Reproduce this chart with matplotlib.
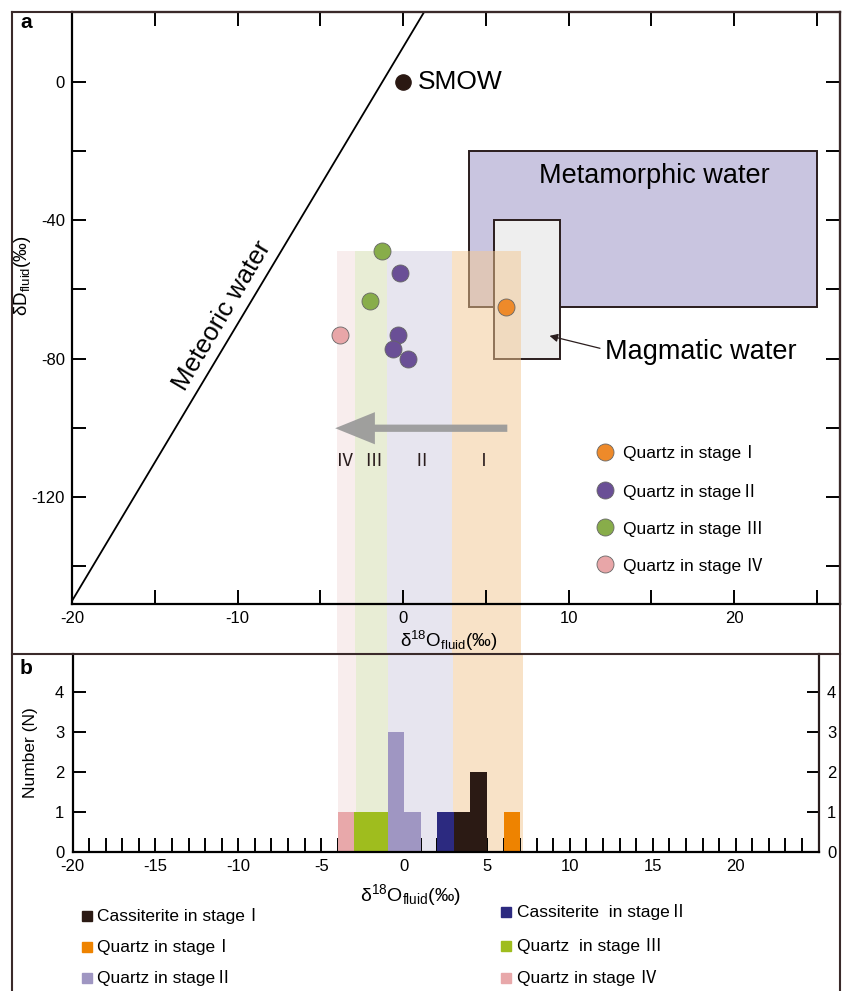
import matplotlib
matplotlib.use("Agg")
import matplotlib.pyplot as plt
from matplotlib.patches import Rectangle, FancyArrow
from matplotlib.lines import Line2D
import matplotlib.ticker as mticker
import numpy as np

plt.rcParams['font.family'] = ['Liberation Sans', 'Noto Sans CJK SC', 'DejaVu Sans']
plt.rcParams['mathtext.fontset'] = 'custom'
plt.rcParams['mathtext.rm'] = 'Liberation Sans'
plt.rcParams['mathtext.it'] = 'Liberation Sans:italic'
plt.rcParams['mathtext.bf'] = 'Liberation Sans:bold'
plt.rcParams['axes.unicode_minus'] = False

# ---------------- data ----------------
stage_names = ['Ⅰ', 'Ⅱ', 'Ⅲ', 'Ⅳ']
# fluid isotope points (δ18O, δD)
qz1_o = [6.2]
qz1_d = [-65.2]
qz2_o = [-0.2, -0.3, -0.6, 0.3]
qz2_d = [-55.1, -73.1, -77.2, -80.2]
qz3_o = [-1.3, -2.0]
qz3_d = [-49.0, -63.2]
qz4_o = [-3.8]
qz4_d = [-73.1]

# stage band boundaries in δ18O (IV, III, II, I)
band_edges = [-4.0, -2.9, -0.95, 2.95, 7.15]
band_top = -49

# reference fields
meta_box = [4, 25, -65, -20]      # xmin, xmax, ymin, ymax
magma_box = [5.5, 9.5, -80, -40]
smow = (0, 0)
mwl_slope, mwl_int = 8, 10

# histogram (bin left edges, counts), bin width 1
hist_cass1_x = [3, 4]; hist_cass1_n = [1, 2]
hist_qz1_x = [6];      hist_qz1_n = [1]
hist_qz2_x = [-1, 0];  hist_qz2_n = [3, 1]
hist_cass2_x = [2];    hist_cass2_n = [1]
hist_qz3_x = [-3, -2]; hist_qz3_n = [1, 1]
hist_qz4_x = [-4];     hist_qz4_n = [1]

# ---------------- styling ----------------
c_qz1 = '#ee8a2a'; c_qz2 = '#6a4f96'; c_qz3 = '#88ad4a'; c_qz4 = '#e8a6a8'
band_cols = ['#f3dddd', '#d3ddad', '#d1cde1', '#f3c791']  # IV, III, II, I
hc = {'cass1': '#2b1a14', 'qz1': '#ee8300', 'qz2': '#9f96c2',
      'cass2': '#2c2a80', 'qz3': '#9fbd1e', 'qz4': '#e8a8aa'}
dark = '#2a1d1d'
gap = {'Ⅰ': '', 'Ⅱ': '', 'Ⅲ': ' ', 'Ⅳ': ' '}

W, H = 843, 991
fig = plt.figure(figsize=(W / 100, H / 100), dpi=100)

def fx(px):
    return px / W

def fy(py):
    return 1 - py / H

# top axes
ax = fig.add_axes([fx(72), fy(604), fx(840) - fx(72), fy(12) - fy(604)])
ax.set_xlim(-20, 26.4)
ax.set_ylim(-150.9, 20.2)
ax.patch.set_alpha(0)

# metamorphic & magmatic boxes
ax.add_patch(Rectangle((meta_box[0], meta_box[2]), meta_box[1] - meta_box[0],
                       meta_box[3] - meta_box[2], facecolor='#c9c5e0',
                       edgecolor=dark, lw=1.4, zorder=1))
ax.add_patch(Rectangle((magma_box[0], magma_box[2]), magma_box[1] - magma_box[0],
                       magma_box[3] - magma_box[2], facecolor='#eeeeee',
                       edgecolor=dark, lw=1.4, zorder=1.1))

# bands (extend down into gap between panels)
y_gap_bottom = -150.9 - 50 / 3.46
for i in range(4):
    x0, x1 = band_edges[i], band_edges[i + 1]
    ax.add_patch(Rectangle((x0, y_gap_bottom), x1 - x0, band_top - y_gap_bottom,
                           facecolor=band_cols[i], edgecolor='none', alpha=0.5,
                           zorder=1.5, clip_on=False))

# meteoric water line
xl = np.array([-20, (20.2 - mwl_int) / mwl_slope])
ax.plot(xl, mwl_slope * xl + mwl_int, color='black', lw=1.3, zorder=2)
ax.text(-10.95, -67.7, 'Meteoric water', rotation=59.3, fontsize=18.5,
        ha='center', va='center', rotation_mode='anchor')

# SMOW
ax.scatter([smow[0]], [smow[1]], s=120, color='#2a1812', zorder=4)
ax.text(0.9, 0, 'SMOW', fontsize=19, va='center', ha='left')

ax.text(8.2, -27.3, 'Metamorphic water', fontsize=19.5, va='center', ha='left')
ax.text(12.2, -78.0, 'Magmatic water', fontsize=19.5, va='center', ha='left')
ax.annotate('', xy=(8.85, -73.4), xytext=(11.9, -77.0),
            arrowprops=dict(arrowstyle='-|>', color=dark, lw=0.9,
                            mutation_scale=12, shrinkA=0, shrinkB=0), zorder=5)

# arrow
ax.add_patch(FancyArrow(6.3, -100.1, -10.4, 0, width=2.1, head_width=9.3,
                        head_length=2.4, length_includes_head=True,
                        facecolor='#999999', edgecolor='none', alpha=0.92, zorder=3))

# stage labels
for lab, xx in zip(['Ⅳ', 'Ⅲ', 'Ⅱ', 'Ⅰ'], [-3.5, -1.8, 1.1, 4.9]):
    ax.text(xx, -109.5, lab, fontsize=13, ha='center', va='center',
            family=['Noto Sans CJK SC'], color='#2a1d1d')

# points
pk = dict(s=150, edgecolors='#666666', linewidths=0.6, zorder=5)
ax.scatter(qz1_o, qz1_d, color=c_qz1, **pk)
ax.scatter(qz2_o, qz2_d, color=c_qz2, **pk)
ax.scatter(qz3_o, qz3_d, color=c_qz3, **pk)
ax.scatter(qz4_o, qz4_d, color=c_qz4, **pk)

# top legend
leg_y = [-106.9, -117.9, -128.6, -139.3]
leg_c = [c_qz1, c_qz2, c_qz3, c_qz4]
for yy, cc, nm in zip(leg_y, leg_c, stage_names):
    ax.scatter([12.2], [yy], color=cc, **pk)
    ax.text(13.3, yy - 0.5, 'Quartz in stage' + gap[nm] + nm, fontsize=12.5,
            va='center', ha='left')

ax.xaxis.set_major_locator(mticker.FixedLocator([-20, -10, 0, 10, 20]))
ax.xaxis.set_minor_locator(mticker.FixedLocator([-15, -5, 5, 15, 25]))
ax.yaxis.set_major_locator(mticker.FixedLocator([0, -40, -80, -120]))
ax.yaxis.set_minor_locator(mticker.FixedLocator([-20, -60, -100, -140]))
ax.tick_params(which='both', direction='in', length=10, width=1.4,
               top=True, right=True, labelsize=12, pad=5)
for s in ax.spines.values():
    s.set_linewidth(1.6)
ax.spines['top'].set_color(dark)
ax.spines['right'].set_color(dark)
ax.set_xlabel(r'$\mathrm{δ^{18}O_{fluid}(‰)}$', fontsize=13.5, labelpad=2)
ax.xaxis.set_label_coords((449 - 72) / 768, -0.042)
ax.set_ylabel(r'$\mathrm{δD_{fluid}(‰)}$', fontsize=13.5)
ax.yaxis.set_label_coords(-(72 - 33) / 768, 0.555)

# bottom axes
bx = fig.add_axes([fx(72.5), fy(852), fx(818.6) - fx(72.5), fy(654) - fy(852)])
bx.set_xlim(-20, 25)
bx.set_ylim(0, 4.95)
for i in range(4):
    bx.axvspan(band_edges[i], band_edges[i + 1], facecolor=band_cols[i],
               alpha=0.5, edgecolor='none', zorder=0)
bk = dict(width=1.0, align='edge', linewidth=0, zorder=2)
bx.bar(hist_cass1_x, hist_cass1_n, color=hc['cass1'], **bk)
bx.bar(hist_qz1_x, hist_qz1_n, color=hc['qz1'], **bk)
bx.bar(hist_qz2_x, hist_qz2_n, color=hc['qz2'], **bk)
bx.bar(hist_cass2_x, hist_cass2_n, color=hc['cass2'], **bk)
bx.bar(hist_qz3_x, hist_qz3_n, color=hc['qz3'], **bk)
bx.bar(hist_qz4_x, hist_qz4_n, color=hc['qz4'], **bk)

bx.xaxis.set_major_locator(mticker.MultipleLocator(1))
bx.xaxis.set_major_formatter(mticker.FuncFormatter(
    lambda v, p: ('%d' % round(v)) if (round(v) % 5 == 0 and round(v) <= 20) else ''))
bx.yaxis.set_major_locator(mticker.FixedLocator([0, 1, 2, 3, 4]))
bx.tick_params(axis='x', direction='in', length=10, width=1.4, labelsize=12, pad=5)
bx.tick_params(axis='y', direction='in', length=9, width=1.4, labelsize=12,
               left=True, right=True, labelleft=True, labelright=True, pad=6)
bx.spines['top'].set_visible(False)
for s in bx.spines.values():
    s.set_linewidth(1.6)
bx.spines['right'].set_color(dark)
bx.set_xlabel(r'$\mathrm{δ^{18}O_{fluid}(‰)}$', fontsize=14)
bx.xaxis.set_label_coords((410 - 72.5) / 746, -0.15)
bx.set_ylabel('Number (N)', fontsize=12.5)
bx.yaxis.set_label_coords(-(72.5 - 38) / 746, 0.5)

# bottom legend
leg2 = [(87, 97, 916, hc['cass1'], 'Cassiterite in stage' + gap['Ⅰ'] + 'Ⅰ'),
        (87, 97, 947, hc['qz1'], 'Quartz in stage' + gap['Ⅰ'] + 'Ⅰ'),
        (87, 97, 978, hc['qz2'], 'Quartz in stage' + gap['Ⅱ'] + 'Ⅱ'),
        (506, 517, 912, hc['cass2'], 'Cassiterite  in stage' + gap['Ⅱ'] + 'Ⅱ'),
        (506, 517, 946, hc['qz3'], 'Quartz  in stage' + gap['Ⅲ'] + 'Ⅲ'),
        (506, 517, 978, hc['qz4'], 'Quartz in stage' + gap['Ⅳ'] + 'Ⅳ')]
for mx, tx, yy, cc, lab in leg2:
    fig.add_artist(Line2D([fx(mx)], [fy(yy)], marker='s', markersize=7.5,
                          color=cc, linestyle='none'))
    fig.text(fx(tx), fy(yy), lab, fontsize=12.5, va='center', ha='left')

# outer frame and separator
fr = dict(color='#3a2a2a', lw=1.5)
fig.add_artist(Line2D([fx(12), fx(12)], [fy(12), 0], **fr))
fig.add_artist(Line2D([fx(840), fx(840)], [fy(12), 0], **fr))
fig.add_artist(Line2D([fx(12), fx(840)], [fy(12), fy(12)], **fr))
fig.add_artist(Line2D([fx(12), fx(840)], [fy(654), fy(654)], **fr))

fig.text(fx(20), fy(23), 'a', fontsize=15, fontweight='bold', va='center', ha='left')
fig.text(fx(20), fy(669), 'b', fontsize=15, fontweight='bold', va='center', ha='left')

fig.savefig('out.png', dpi=100)
